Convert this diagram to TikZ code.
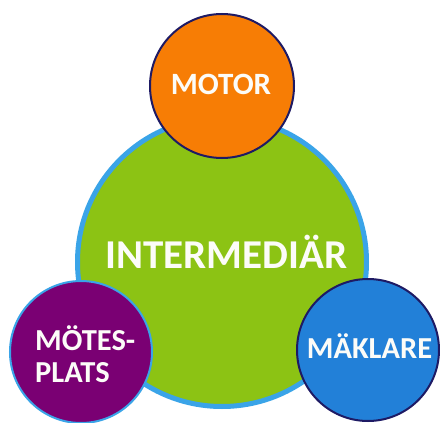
\documentclass[tikz,border=0pt]{standalone}
\usepackage{fontspec}
\setmainfont{Carlito}
\definecolor{ringblue}{RGB}{58,164,232}
\definecolor{leafgreen}{RGB}{140,195,20}
\definecolor{motororange}{RGB}{247,125,5}
\definecolor{plum}{RGB}{122,0,115}
\definecolor{brokerblue}{RGB}{34,128,216}
\definecolor{navyline}{RGB}{30,26,100}
\definecolor{softwhite}{RGB}{252,252,248}
\tikzset{
  bubble/.style={circle, inner sep=0pt, text=softwhite, font=\bfseries},
  label text/.style={text=softwhite, inner sep=0pt},
}
\begin{document}
\begin{tikzpicture}[x=1pt,y=-1pt]
  \useasboundingbox[fill=white] (0,0) rectangle (440,423);
  % central circle
  \node[bubble, fill=leafgreen, draw=ringblue, line width=5pt, minimum size=289pt] (mid) at (222,262) {};
  \node[label text, font=\bfseries\fontsize{41}{41}\selectfont, anchor=base]
        (midtext) at (226.5,268) {INTERMEDIÄR};
  % satellites
  \node[bubble, fill=motororange, draw=navyline, line width=2pt, minimum size=144pt] (motor) at (222,86) {};
  \node[label text, font=\bfseries\fontsize{31}{31}\selectfont, anchor=base]
        (motortext) at (221,94) {MOTOR};
  \node[bubble, fill=plum, draw=ringblue, line width=2pt, minimum size=142pt] (plats) at (81,352) {};
  \node[label text, font=\bfseries\fontsize{30.5}{32}\selectfont, align=left,
        anchor=base west] (platstext) at (35,382) {MÖTES-\\PLATS};
  \node[bubble, fill=brokerblue, draw=navyline, line width=2pt, minimum size=142pt] (broker) at (368,350) {};
  \node[label text, font=\bfseries\fontsize{30.5}{30.5}\selectfont, anchor=base]
        (brokertext) at (369.5,358) {MÄKLARE};
\end{tikzpicture}
\end{document}
